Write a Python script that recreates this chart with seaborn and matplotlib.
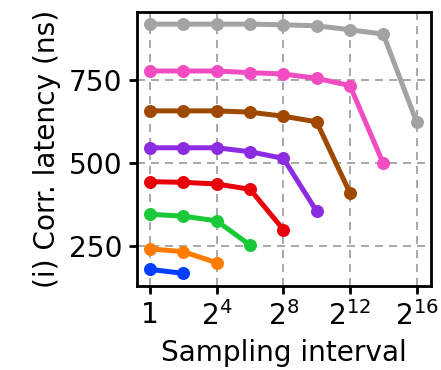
import numpy as np
import pandas as pd
import matplotlib
matplotlib.use("Agg")
import matplotlib.pyplot as plt
import seaborn as sns

# Exponentes del intervalo de muestreo (2^0, 2^2, ... 2^16)
exponentes = [0, 2, 4, 6, 8, 10, 12, 14, 16]

# Latencia corregida (ns) por serie
lat_azul = [180, 168]
lat_naranja = [242, 233, 200]
lat_verde = [346, 340, 326, 253]
lat_rojo = [444, 442, 437, 421, 300]
lat_morado = [546, 546, 546, 534, 514, 355]
lat_marron = [657, 657, 657, 653, 641, 624, 410]
lat_rosa = [777, 777, 777, 772, 768, 755, 733, 499]
lat_gris = [918, 918, 918, 918, 916, 913, 901, 888, 624]

series = [lat_azul, lat_naranja, lat_verde, lat_rojo,
          lat_morado, lat_marron, lat_rosa, lat_gris]

ticks_exp = [0, 4, 8, 12, 16]
ticks_lbl = ["1", "$2^{4}$", "$2^{8}$", "$2^{12}$", "$2^{16}$"]

sns.set_style("ticks")
plt.rcParams["font.family"] = ["DejaVu Sans"]
plt.rcParams["text.color"] = "black"
plt.rcParams["axes.labelcolor"] = "black"
plt.rcParams["xtick.color"] = "black"
plt.rcParams["ytick.color"] = "black"
paleta = sns.color_palette("bright", 8)

fig = plt.figure(figsize=(441 / 144, 370 / 144), dpi=144)
ax = fig.add_axes([0.311, 0.227, 0.666, 0.741])

for i, lat in enumerate(series):
    x = [2 ** e for e in exponentes[:len(lat)]]
    sns.lineplot(x=x, y=lat, marker="o", color=paleta[i], lw=2.5,
                 markersize=6.5, markeredgewidth=0, ax=ax, zorder=3)

ax.set_xscale("log", base=2)
ax.set_xlim(2 ** -0.78, 2 ** 16.86)
ax.set_ylim(130, 955)
ax.set_xticks([2 ** e for e in ticks_exp])
ax.set_xticklabels(ticks_lbl)
ax.minorticks_off()
ax.set_yticks([250, 500, 750])

ax.grid(True, ls=(0, (4, 3)), color="#aaaaaa", lw=1.0)
for s in ax.spines.values():
    s.set_linewidth(1.4)
    s.set_color("black")
ax.tick_params(labelsize=14, length=4, width=1.4, direction="out")
ax.set_xlabel("Sampling interval", fontsize=14)
ax.set_ylabel("(i) Corr. latency (ns)", fontsize=14)

fig.savefig("out.png", dpi=144)
